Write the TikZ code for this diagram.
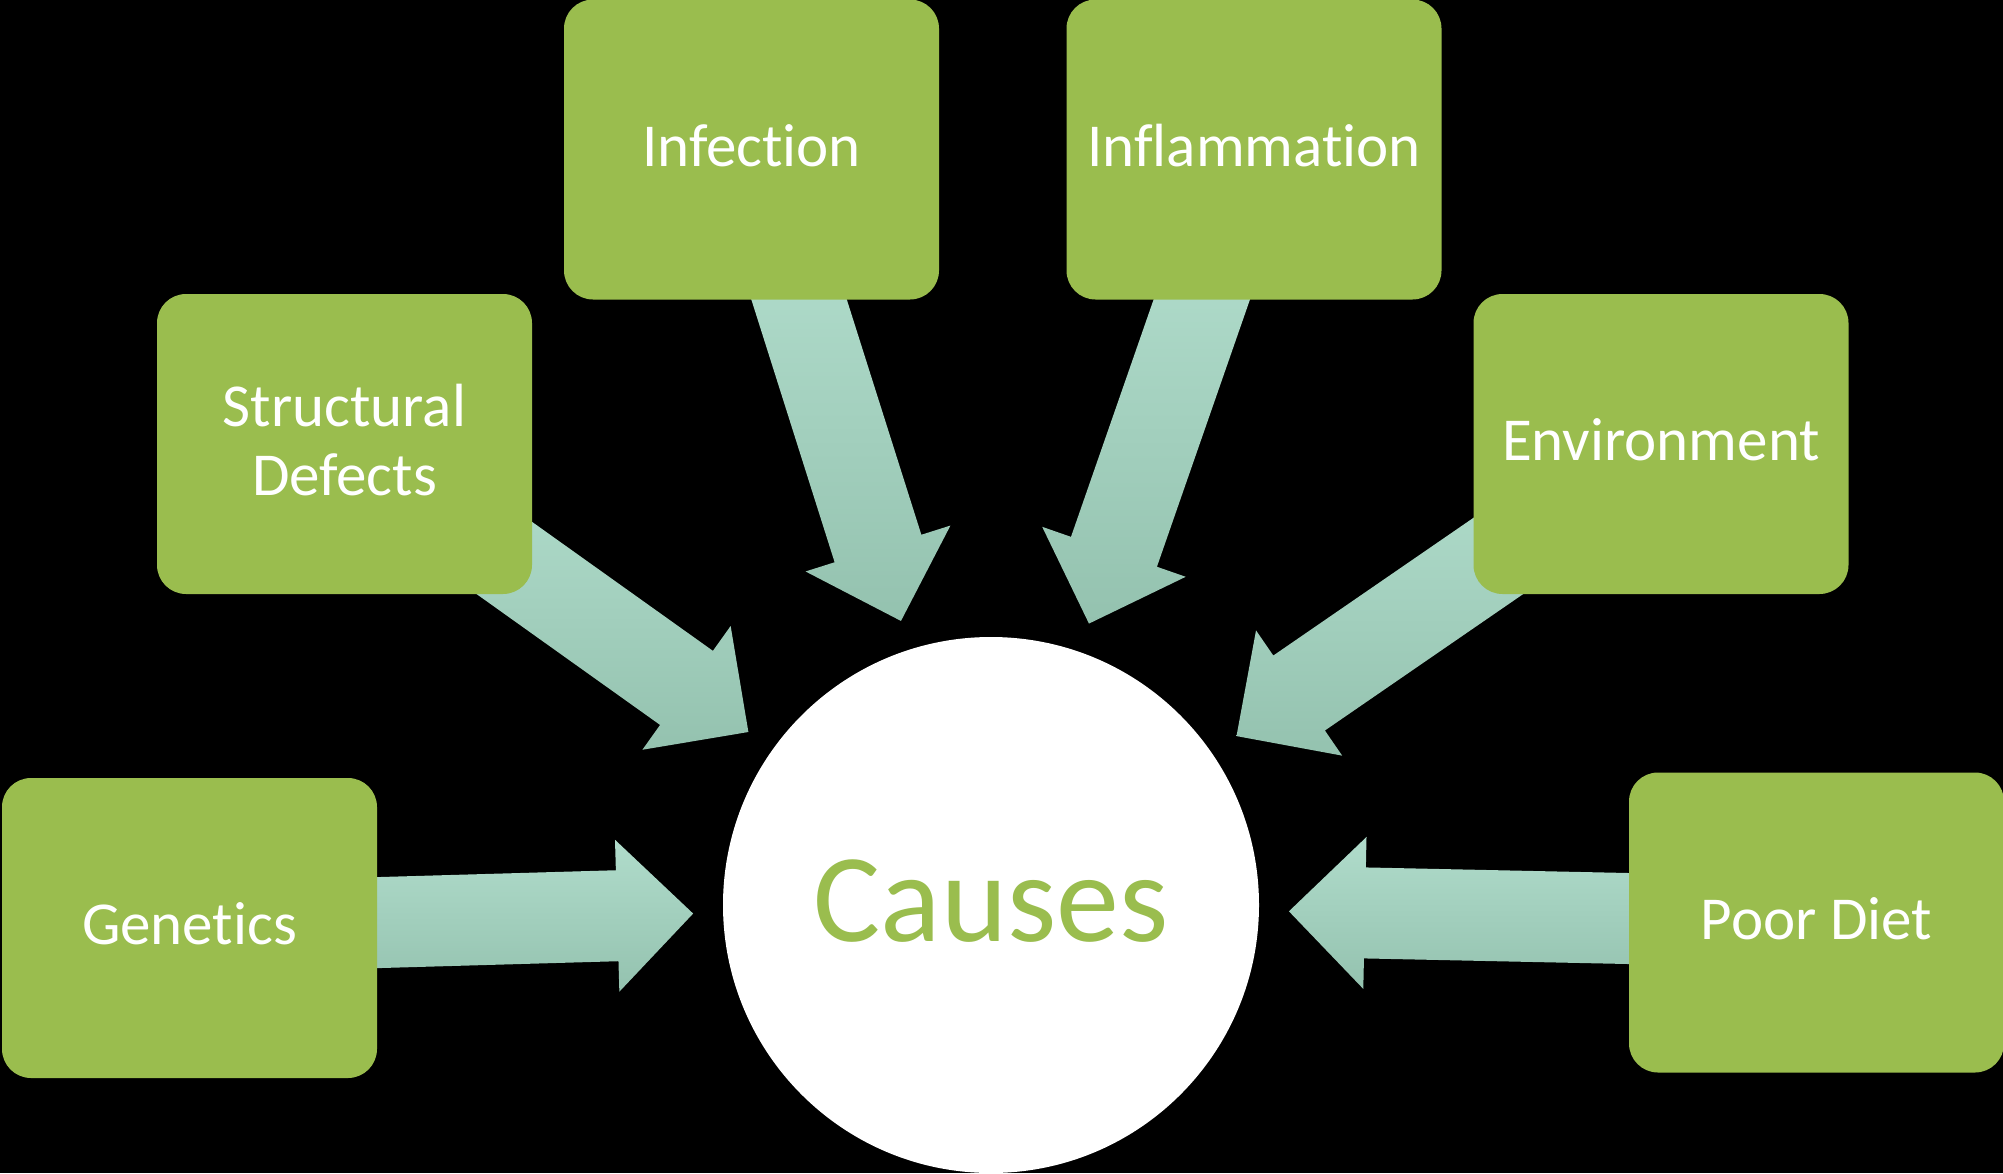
\documentclass[tikz,border=0pt]{standalone}
\usepackage{fontspec}
\setmainfont{Carlito}[Ligatures={NoCommon}]
\usetikzlibrary{calc}
\definecolor{boxgreen}{HTML}{9ABD4E}
\definecolor{arrtop}{HTML}{B0DCCB}
\definecolor{arrbot}{HTML}{94C2AF}
\pgfdeclarelayer{bglayer}
\pgfdeclarelayer{arrowlayer}
\pgfsetlayers{bglayer,arrowlayer,main}
\newcommand{\liftup}[1]{\raisebox{4pt}[\height][\depth]{#1}}
\newcommand{\convarrow}[2]{%
  \coordinate (T) at ($(#2.center)!298pt!(#1.center)$);
  \coordinate (H) at ($(#2.center)!374pt!(#1.center)$);
  \coordinate (S) at ($(#1.center)!120pt!(#2.center)$);
  \fill[blockarrow] ($(S)!45.5pt!90:(T)$) -- ($(H)!45.5pt!90:(T)$) -- ($(H)!76pt!90:(T)$)
     -- (T) -- ($(H)!76pt!-90:(T)$) -- ($(H)!45.5pt!-90:(T)$) -- ($(S)!45.5pt!-90:(T)$) -- cycle;
}
\begin{document}
\begin{tikzpicture}[x=1pt,y=-1pt,
  causebox/.style={rectangle, rounded corners=29pt, fill=boxgreen, minimum width=375pt,
    minimum height=300pt, inner sep=0pt, text=white, font=\fontsize{61}{69}\selectfont, align=center},
  hub/.style={circle, fill=white, minimum size=536pt, inner sep=0pt, text=boxgreen,
    font=\fontsize{126}{140}\selectfont},
  blockarrow/.style={top color=arrtop, bottom color=arrbot, draw=none}
]
\useasboundingbox (0,0) rectangle (2003,1173);
\begin{pgfonlayer}{bglayer}
\fill[black] (0,0) rectangle (2003,1173);
\end{pgfonlayer}

\node[hub] (hub) at (991,905) {\liftup{Causes}};
\node[causebox] (struct) at (344.5,444) {\liftup{Structural}\\\liftup{Defects}};
\node[causebox] (inf) at (751.5,149.5) {\liftup{Infection}};
\node[causebox] (infl) at (1254,149.5) {\liftup{Inflammation}};
\node[causebox] (env) at (1661,444) {\liftup{Environment}};
\node[causebox] (gen) at (189.5,928) {\liftup{Genetics}};
\node[causebox] (diet) at (1816.5,922.5) {\liftup{Poor Diet}};

\begin{pgfonlayer}{arrowlayer}
\convarrow{struct}{hub}
\convarrow{inf}{hub}
\convarrow{infl}{hub}
\convarrow{env}{hub}
\convarrow{gen}{hub}
\convarrow{diet}{hub}
\end{pgfonlayer}
\end{tikzpicture}
\end{document}
